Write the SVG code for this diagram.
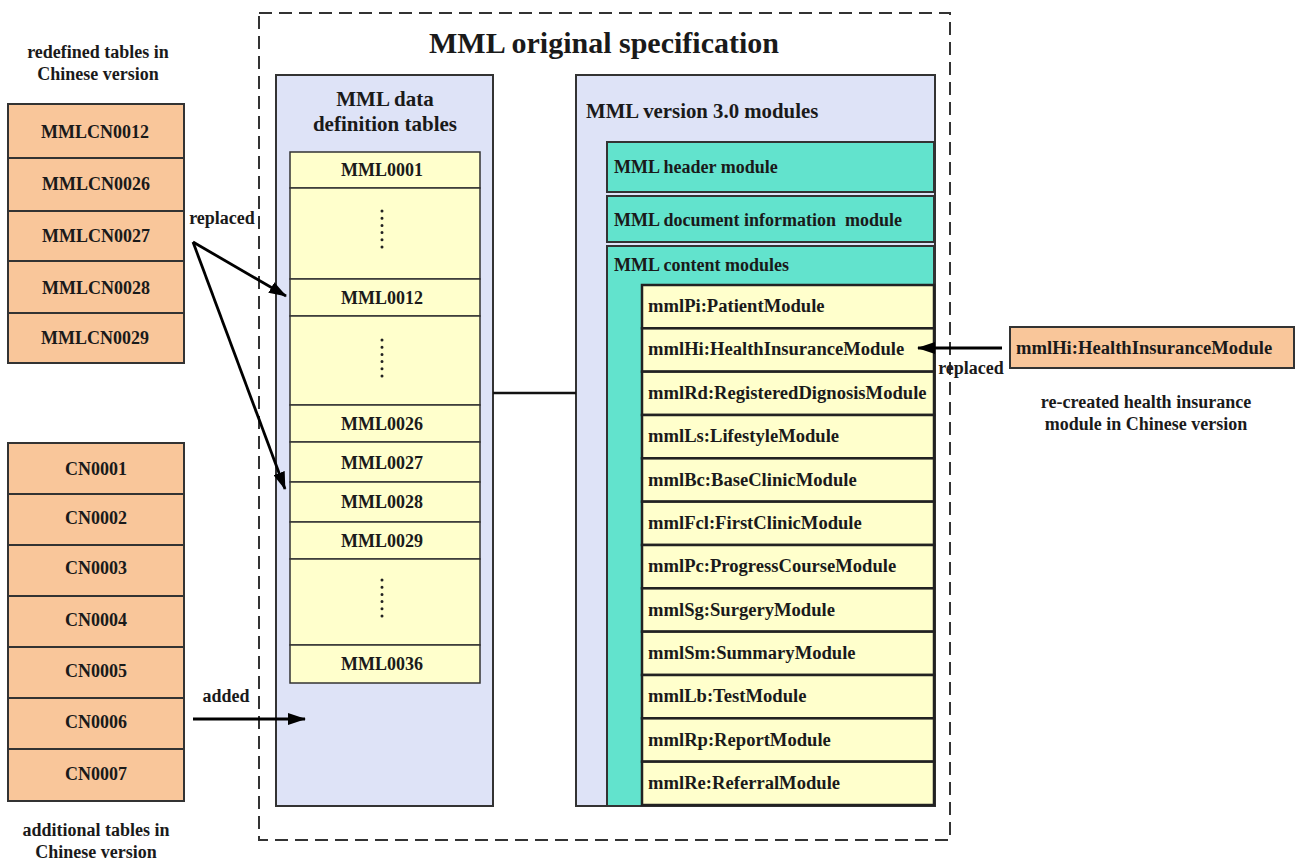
<svg xmlns="http://www.w3.org/2000/svg" width="1297" height="861" viewBox="0 0 1297 861">
<defs>
<style>
text{font-family:"Liberation Serif","Times New Roman",serif;font-weight:bold;fill:#1a1a1a}
.f18{font-size:18px}
.m{font-size:18.6px}
.f21{font-size:21px}
.c{text-anchor:middle}
.orange{fill:#F9C69A;stroke:#333;stroke-width:2}
.lav{fill:#DEE3F7;stroke:#333;stroke-width:2}
.yel{fill:#FFFFCC;stroke:#333;stroke-width:1.5}
.yelm{fill:#FFFFCC;stroke:#222;stroke-width:2.5}
.teal{fill:#62E3CD;stroke:#333;stroke-width:2}
.dots{stroke:#222;stroke-width:3;stroke-linecap:round;stroke-dasharray:0 7.2;fill:none}
.arr{stroke:#000;stroke-width:2.8;fill:none;marker-end:url(#ah)}
</style>
<marker id="ah" viewBox="0 0 18 12" refX="17" refY="6" markerWidth="18" markerHeight="12" markerUnits="userSpaceOnUse" orient="auto">
<path d="M0,0 L18,6 L0,12 Z" fill="#000"/>
</marker>
</defs>
<rect width="1297" height="861" fill="#fff"/>

<g id="spec">
<rect x="259" y="13" width="691" height="827" fill="none" stroke="#333" stroke-width="2" stroke-dasharray="13 7"/>
<text x="604" y="53" class="c" style="font-size:30px">MML original specification</text>
</g>

<g id="redefined">
<text x="98" y="58" class="f18 c">redefined tables in</text>
<text x="98" y="80" class="f18 c">Chinese version</text>
<rect class="orange" x="8" y="104" width="176" height="54"/>
<rect class="orange" x="8" y="158" width="176" height="53"/>
<rect class="orange" x="8" y="211" width="176" height="50"/>
<rect class="orange" x="8" y="261" width="176" height="52"/>
<rect class="orange" x="8" y="313" width="176" height="50"/>
<text x="95" y="138" class="f18 c">MMLCN0012</text>
<text x="96" y="190" class="f18 c">MMLCN0026</text>
<text x="96" y="242" class="f18 c">MMLCN0027</text>
<text x="96" y="294" class="f18 c">MMLCN0028</text>
<text x="95" y="344" class="f18 c">MMLCN0029</text>
</g>

<g id="additional">
<rect class="orange" x="8" y="443" width="176" height="51"/>
<rect class="orange" x="8" y="494" width="176" height="51"/>
<rect class="orange" x="8" y="545" width="176" height="51"/>
<rect class="orange" x="8" y="596" width="176" height="51"/>
<rect class="orange" x="8" y="647" width="176" height="51"/>
<rect class="orange" x="8" y="698" width="176" height="51"/>
<rect class="orange" x="8" y="749" width="176" height="52"/>
<text x="96" y="475" class="f18 c">CN0001</text>
<text x="96" y="524" class="f18 c">CN0002</text>
<text x="96" y="574" class="f18 c">CN0003</text>
<text x="96" y="626" class="f18 c">CN0004</text>
<text x="96" y="677" class="f18 c">CN0005</text>
<text x="96" y="728" class="f18 c">CN0006</text>
<text x="96" y="780" class="f18 c">CN0007</text>
<text x="96" y="836" class="f18 c">additional tables in</text>
<text x="96" y="858" class="f18 c">Chinese version</text>
</g>

<g id="datatables">
<rect class="lav" x="276" y="75" width="217" height="731"/>
<text x="385" y="106" class="f21 c">MML data</text>
<text x="385" y="131" class="f21 c">definition tables</text>
<rect class="yel" x="290" y="152" width="190" height="36"/>
<rect class="yel" x="290" y="188" width="190" height="91"/>
<rect class="yel" x="290" y="279" width="190" height="37"/>
<rect class="yel" x="290" y="316" width="190" height="89"/>
<rect class="yel" x="290" y="405" width="190" height="37"/>
<rect class="yel" x="290" y="442" width="190" height="40"/>
<rect class="yel" x="290" y="482" width="190" height="40"/>
<rect class="yel" x="290" y="522" width="190" height="37"/>
<rect class="yel" x="290" y="559" width="190" height="86"/>
<rect class="yel" x="290" y="645" width="190" height="38"/>
<text x="382" y="176" class="f18 c">MML0001</text>
<text x="382" y="304" class="f18 c">MML0012</text>
<text x="382" y="430" class="f18 c">MML0026</text>
<text x="382" y="469" class="f18 c">MML0027</text>
<text x="382" y="508" class="f18 c">MML0028</text>
<text x="382" y="547" class="f18 c">MML0029</text>
<text x="382" y="670" class="f18 c">MML0036</text>
<path class="dots" d="M382,211 V248 M382,340 V377 M382,580 V617"/>
</g>

<g id="modules">
<rect class="lav" x="576" y="75" width="359" height="731"/>
<text x="586" y="118" style="font-size:20.8px">MML version 3.0 modules</text>
</g>

<g id="header">
<rect class="teal" x="607" y="142" width="327" height="50"/>
<text x="614" y="173" class="f18">MML header module</text>
</g>

<g id="docinfo">
<rect class="teal" x="607" y="196" width="327" height="46"/>
<text x="614" y="226" class="f18" xml:space="preserve">MML document information  module</text>
</g>

<g id="content">
<rect class="teal" x="607" y="246" width="327" height="560"/>
<text x="614" y="271" class="f18">MML content modules</text>
<rect class="yelm" x="642" y="285" width="292" height="43.33"/>
<rect class="yelm" x="642" y="328.33" width="292" height="43.33"/>
<rect class="yelm" x="642" y="371.67" width="292" height="43.33"/>
<rect class="yelm" x="642" y="415" width="292" height="43.33"/>
<rect class="yelm" x="642" y="458.33" width="292" height="43.33"/>
<rect class="yelm" x="642" y="501.67" width="292" height="43.33"/>
<rect class="yelm" x="642" y="545" width="292" height="43.33"/>
<rect class="yelm" x="642" y="588.33" width="292" height="43.33"/>
<rect class="yelm" x="642" y="631.67" width="292" height="43.33"/>
<rect class="yelm" x="642" y="675" width="292" height="43.33"/>
<rect class="yelm" x="642" y="718.33" width="292" height="43.33"/>
<rect class="yelm" x="642" y="761.67" width="292" height="43.33"/>
<text x="648" y="312" class="m">mmlPi:PatientModule</text>
<text x="648" y="355" class="m">mmlHi:HealthInsuranceModule</text>
<text x="648" y="399" class="m">mmlRd:RegisteredDignosisModule</text>
<text x="648" y="442" class="m">mmlLs:LifestyleModule</text>
<text x="648" y="486" class="m">mmlBc:BaseClinicModule</text>
<text x="648" y="529" class="m">mmlFcl:FirstClinicModule</text>
<text x="648" y="572" class="m">mmlPc:ProgressCourseModule</text>
<text x="648" y="616" class="m">mmlSg:SurgeryModule</text>
<text x="648" y="659" class="m">mmlSm:SummaryModule</text>
<text x="648" y="702" class="m">mmlLb:TestModule</text>
<text x="648" y="746" class="m">mmlRp:ReportModule</text>
<text x="648" y="789" class="m">mmlRe:ReferralModule</text>
</g>

<g id="recreated">
<rect class="orange" x="1010" y="327" width="284" height="41"/>
<text x="1016" y="354" class="m">mmlHi:HealthInsuranceModule</text>
<text x="1146" y="408" class="f18 c">re-created health insurance</text>
<text x="1146" y="430" class="f18 c">module in Chinese version</text>
</g>

<g id="connectors">
<line x1="493" y1="393" x2="576" y2="393" stroke="#111" stroke-width="2.5"/>
<line class="arr" x1="193" y1="242" x2="286" y2="296"/>
<line class="arr" x1="193" y1="242" x2="285" y2="489"/>
<text x="222" y="224" class="f18 c">replaced</text>
<line class="arr" x1="193" y1="719" x2="305" y2="719"/>
<text x="226" y="702" class="f18 c">added</text>
<line class="arr" x1="1002" y1="348" x2="918" y2="348"/>
<text x="971" y="374" class="f18 c">replaced</text>
</g>
</svg>
